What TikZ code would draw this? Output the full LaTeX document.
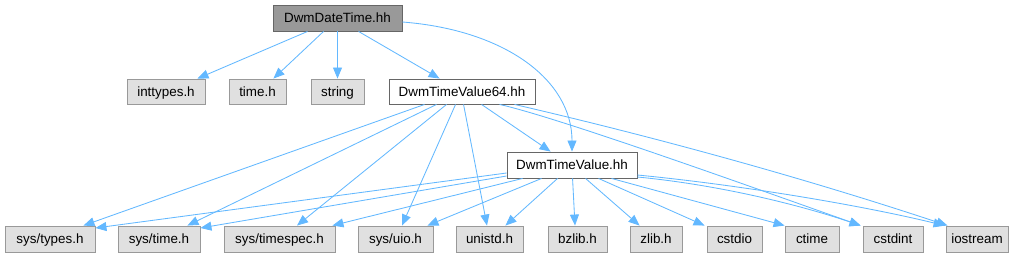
\documentclass[tikz,border=0pt]{standalone}
\usepackage{fontspec}
\setmainfont{Liberation Sans}
\usetikzlibrary{arrows.meta}
\definecolor{edgec}{HTML}{63B8FF}
\definecolor{sysfill}{HTML}{E0E0E0}
\definecolor{sysdraw}{HTML}{999999}
\definecolor{topfill}{HTML}{999999}
\definecolor{darkdraw}{HTML}{666666}
\begin{document}
\begin{tikzpicture}[x=1pt,y=-1pt,
  box/.style={draw, line width=0.9pt, inner sep=0pt, minimum height=25pt, text height=11pt, text depth=2pt, font=\fontsize{13.4}{15}\selectfont, text=black},
  sysbox/.style={box, fill=sysfill, draw=sysdraw},
  whitebox/.style={box, fill=white, draw=darkdraw},
  topbox/.style={box, fill=topfill, draw=darkdraw},
  dep/.style={draw=edgec, line width=0.85pt, -{Triangle[length=11pt,width=9pt]}}
]
\useasboundingbox (0,0) rectangle (1027,257);

% nodes
\node[topbox, minimum width=129pt, minimum height=26pt] (top) at (337.5,18) {DwmDateTime.hh};
\node[sysbox, minimum width=78pt] (inttypes) at (166,91.5) {inttypes.h};
\node[sysbox, minimum width=57pt] (timeh) at (257.5,91.5) {time.h};
\node[sysbox, minimum width=53pt] (string) at (337.5,91.5) {string};
\node[whitebox, minimum width=146pt] (tvsf) at (462,91.5) {DwmTimeValue64.hh};
\node[whitebox, minimum width=130pt, minimum height=26pt] (tv) at (572,165) {DwmTimeValue.hh};

\node[sysbox, minimum width=90pt, minimum height=26pt] (systypes) at (50,239) {sys/types.h};
\node[sysbox, minimum width=82pt, minimum height=26pt] (systime) at (159,239) {sys/time.h};
\node[sysbox, minimum width=111pt, minimum height=26pt] (timespec) at (279.5,239) {sys/timespec.h};
\node[sysbox, minimum width=75pt, minimum height=26pt] (uio) at (395.5,239) {sys/uio.h};
\node[sysbox, minimum width=67pt, minimum height=26pt] (unistd) at (489.5,239) {unistd.h};
\node[sysbox, minimum width=59pt, minimum height=26pt] (bzlib) at (577.5,239) {bzlib.h};
\node[sysbox, minimum width=52pt, minimum height=26pt] (zlib) at (656,239) {zlib.h};
\node[sysbox, minimum width=55pt, minimum height=26pt] (cstdio) at (734.5,239) {cstdio};
\node[sysbox, minimum width=54pt, minimum height=26pt] (ctime) at (812,239) {ctime};
\node[sysbox, minimum width=60pt, minimum height=26pt] (cstdint) at (893,239) {cstdint};
\node[sysbox, minimum width=62pt, minimum height=26pt] (iostream) at (977,239) {iostream};

% edges from DwmDateTime.hh
\draw[dep] ([xshift=35pt]top.south west) -- ([xshift=-8pt]inttypes.north east);
\draw[dep] ([xshift=51pt]top.south west) -- ([xshift=-13pt]timeh.north east);
\draw[dep] (top.south) -- (string.north);
\draw[dep] ([xshift=86pt]top.south west) -- ([xshift=51pt]tvsf.north west);
\draw[dep] ([yshift=-4pt]top.east) .. controls (505,30) and (572,80) .. (tv.north);

% edges from DwmTimeValue64.hh
\draw[dep] ([xshift=36pt]tvsf.south west) -- ([xshift=-12pt]systypes.north east);
\draw[dep] ([xshift=48pt]tvsf.south west) -- ([xshift=-13pt]systime.north east);
\draw[dep] ([xshift=58pt]tvsf.south west) -- ([xshift=17.5pt]timespec.north);
\draw[dep] ([xshift=67pt]tvsf.south west) -- ([xshift=6.5pt]uio.north);
\draw[dep] ([xshift=75pt]tvsf.south west) -- ([xshift=-2.5pt]unistd.north);
\draw[dep] ([xshift=93pt]tvsf.south west) -- ([xshift=44pt]tv.north west);
\draw[dep] ([xshift=111pt]tvsf.south west) .. controls (560,118) and (760,190) .. ([xshift=-2pt]cstdint.north west);
\draw[dep] ([xshift=126pt]tvsf.south west) .. controls (659,138) and (804,178) .. ([xshift=2pt]iostream.north west);

% edges from DwmTimeValue.hh
\draw[dep] ([yshift=-8pt]tv.west) -- ([yshift=11pt]systypes.east);
\draw[dep] ([yshift=-11pt]tv.west) -- ([yshift=11pt]systime.east);
\draw[dep] ([xshift=16pt]tv.south west) -- ([xshift=-3pt]timespec.north east);
\draw[dep] ([xshift=35pt]tv.south west) -- ([xshift=-6pt]uio.north east);
\draw[dep] ([xshift=51pt]tv.south west) -- ([xshift=-18pt]unistd.north east);
\draw[dep] ([xshift=66pt]tv.south west) -- ([xshift=-2.5pt]bzlib.north);
\draw[dep] ([xshift=79pt]tv.south west) -- ([xshift=10pt]zlib.north west);
\draw[dep] ([xshift=92pt]tv.south west) -- ([xshift=-2pt]cstdio.north west);
\draw[dep] ([xshift=105pt]tv.south west) -- (ctime.north west);
\draw[dep] ([yshift=-12pt]tv.east) .. controls (720,185) and (800,205) .. ([xshift=-2pt]cstdint.north west);
\draw[dep] ([yshift=-10pt]tv.east) .. controls (740,185) and (860,205) .. ([xshift=-1pt]iostream.north west);
\end{tikzpicture}
\end{document}
